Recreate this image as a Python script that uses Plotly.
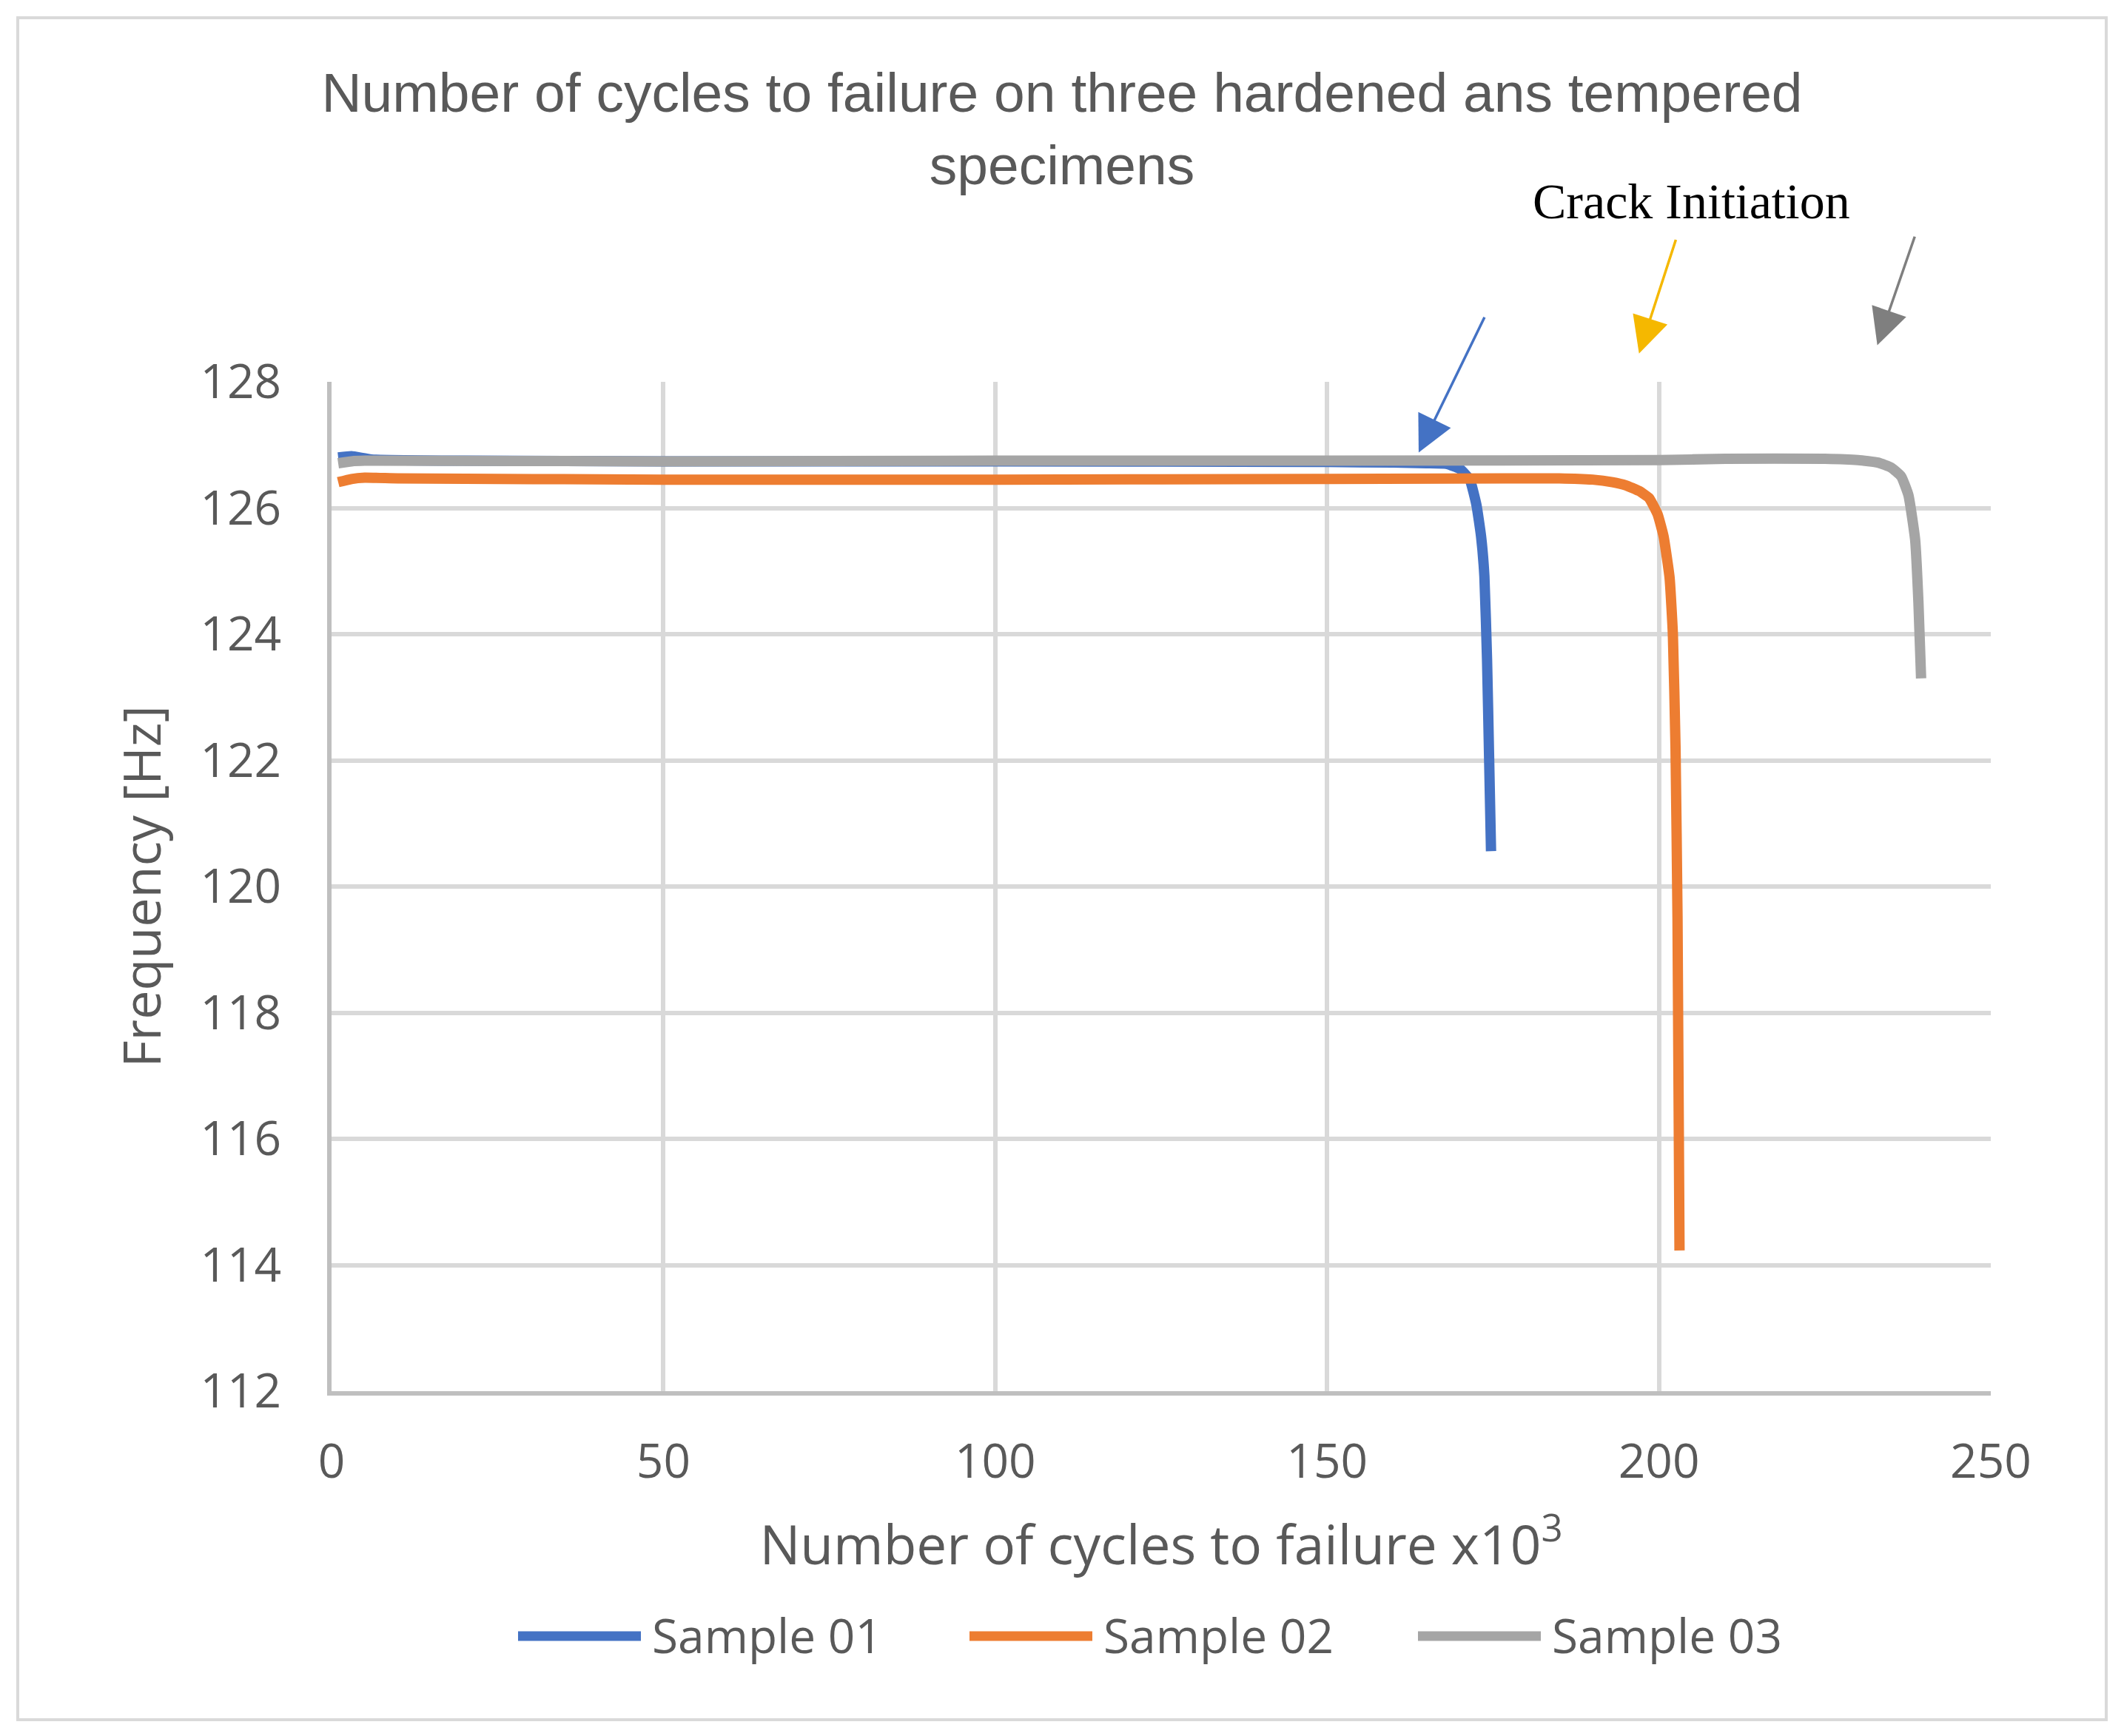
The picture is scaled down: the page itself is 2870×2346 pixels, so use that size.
import plotly.graph_objects as go

# ---------------- data ----------------
series_names = ["Sample 01", "Sample 02", "Sample 03"]
series_colors = ["#4472C4", "#ED7D31", "#A5A5A5"]

s1_x = [1, 3, 6, 20, 50, 100, 150, 160, 165, 168, 170, 171.5, 172.5, 173.2, 173.7, 174.1, 174.4, 174.7]
s1_y = [126.80, 126.82, 126.77, 126.75, 126.74, 126.74, 126.73, 126.72, 126.71, 126.70, 126.62, 126.45, 126.05, 125.55, 124.92, 123.6, 122.1, 120.56]

s2_x = [1, 3, 5, 10, 50, 100, 150, 185, 190, 193, 195, 197, 198.5, 199.8, 200.7, 201.6, 202.1, 202.5, 202.8, 203.1]
s2_y = [126.41, 126.46, 126.48, 126.47, 126.45, 126.45, 126.46, 126.47, 126.45, 126.41, 126.36, 126.27, 126.16, 125.9, 125.55, 124.9, 124.0, 122.2, 119.5, 114.23]

s3_x = [1, 3, 5, 50, 100, 150, 200, 210, 225, 230, 233, 235, 236.5, 237.6, 238.6, 239.1, 239.5]
s3_y = [126.71, 126.74, 126.75, 126.74, 126.75, 126.75, 126.76, 126.78, 126.78, 126.76, 126.72, 126.64, 126.5, 126.2, 125.5, 124.5, 123.3]

x_ticks = [0, 50, 100, 150, 200, 250]
y_ticks = [112, 114, 116, 118, 120, 122, 124, 126, 128]
x_range = [0, 250]
y_range = [112, 128]

# crack initiation arrows (data coordinates of tail and tip)
arrow_tail_x = [173.8, 202.6, 238.6]
arrow_tail_y = [129.04, 130.27, 130.32]
arrow_tip_x = [163.8, 197.0, 232.9]
arrow_tip_y = [126.88, 128.45, 128.58]
arrow_colors = ["#4472C4", "#F5B800", "#7F7F7F"]

title_text = "Number of cycles to failure on three hardened ans tempered<br>specimens"
x_title = "Number of cycles to failure x10<sup>3</sup>"
y_title = "Frequency [Hz]"
crack_label = "Crack Initiation"

# ---------------- geometry (page pixels) ----------------
OFF = 8                       # default body margin of the html page
W, H = 2870 - OFF, 2346 - OFF
PX0, PX1, PY0, PY1 = 448, 2690, 516, 1880   # plot area on the page
L, T = PX0 - OFF, PY0 - OFF
pw, ph = PX1 - PX0, PY1 - PY0
R, B = W - L - pw, H - T - ph

def px_to_paper_x(px):
    return (px - PX0) / pw

def px_to_paper_y(py):
    return (PY1 - py) / ph

def data_to_paper_x(v):
    return (v - x_range[0]) / (x_range[1] - x_range[0])

def data_to_paper_y(v):
    return (v - y_range[0]) / (y_range[1] - y_range[0])

TEXT = "#595959"
fig = go.Figure()

for xs, ys, name, col in zip([s1_x, s2_x, s3_x], [s1_y, s2_y, s3_y], series_names, series_colors):
    fig.add_trace(go.Scatter(
        x=xs, y=ys, mode="lines", name=name,
        line=dict(color=col, width=14, shape="spline", smoothing=0.4),
        showlegend=False,
    ))

fig.update_layout(
    width=W, height=H,
    margin=dict(l=L, r=R, t=T, b=B),
    paper_bgcolor="white", plot_bgcolor="white",
    font=dict(family="Open Sans", color=TEXT, size=64),
    title=dict(text=title_text, x=(1435 - OFF) / W, xref="container", xanchor="center",
               y=1 - 143 / H, yref="container", yanchor="top",
               font=dict(family="Liberation Sans", size=75, color=TEXT)),
    xaxis=dict(range=x_range, tickvals=x_ticks, showgrid=True, gridcolor="#D9D9D9", gridwidth=6,
               zeroline=False, showline=True, linecolor="#BFBFBF", linewidth=6,
               ticks="", ticklabelstandoff=34, tickfont=dict(size=64, color=TEXT),
               title=dict(text=x_title, font=dict(size=73, color=TEXT), standoff=50)),
    yaxis=dict(range=y_range, tickvals=y_ticks, showgrid=True, gridcolor="#D9D9D9", gridwidth=6,
               zeroline=False, showline=True, linecolor="#BFBFBF", linewidth=6,
               ticks="", ticklabelstandoff=49, tickfont=dict(size=64, color=TEXT),
               title=dict(text=y_title, font=dict(size=70, color=TEXT), standoff=32)),
)

# outer border
fig.add_shape(type="rect", xref="paper", yref="paper",
              x0=px_to_paper_x(24), x1=px_to_paper_x(2846),
              y0=px_to_paper_y(2324), y1=px_to_paper_y(24),
              line=dict(color="#D9D9D9", width=4), layer="below")

# arrows (tip in paper coords, tail as pixel offset so they can sit outside the axes)
for tx, ty, hx, hy, col in zip(arrow_tail_x, arrow_tail_y, arrow_tip_x, arrow_tip_y, arrow_colors):
    fig.add_annotation(x=data_to_paper_x(hx), y=data_to_paper_y(hy), xref="paper", yref="paper",
                       ax=(data_to_paper_x(tx) - data_to_paper_x(hx)) * pw,
                       ay=-(data_to_paper_y(ty) - data_to_paper_y(hy)) * ph,
                       axref="pixel", ayref="pixel",
                       text="", showarrow=True, arrowhead=2, arrowsize=2.8, arrowwidth=3.5,
                       arrowcolor=col, standoff=0)

fig.add_annotation(x=px_to_paper_x(2285), y=px_to_paper_y(272), xref="paper", yref="paper",
                   text=crack_label, showarrow=False, xanchor="center", yanchor="middle",
                   font=dict(family="Liberation Serif", size=68, color="black"))

# legend drawn with long line samples like the original
leg_line_x0 = [700, 1310, 1916]
leg_line_len = 166
leg_y = 2211
for x0, name, col in zip(leg_line_x0, series_names, series_colors):
    fig.add_shape(type="line", xref="paper", yref="paper",
                  x0=px_to_paper_x(x0), x1=px_to_paper_x(x0 + leg_line_len),
                  y0=px_to_paper_y(leg_y), y1=px_to_paper_y(leg_y),
                  line=dict(color=col, width=13))
    fig.add_annotation(x=px_to_paper_x(x0 + leg_line_len + 13), y=px_to_paper_y(leg_y - 2),
                       xref="paper", yref="paper", text=name, showarrow=False,
                       xanchor="left", yanchor="middle",
                       font=dict(family="Open Sans", size=64, color=TEXT))

fig.write_html("out.html")
